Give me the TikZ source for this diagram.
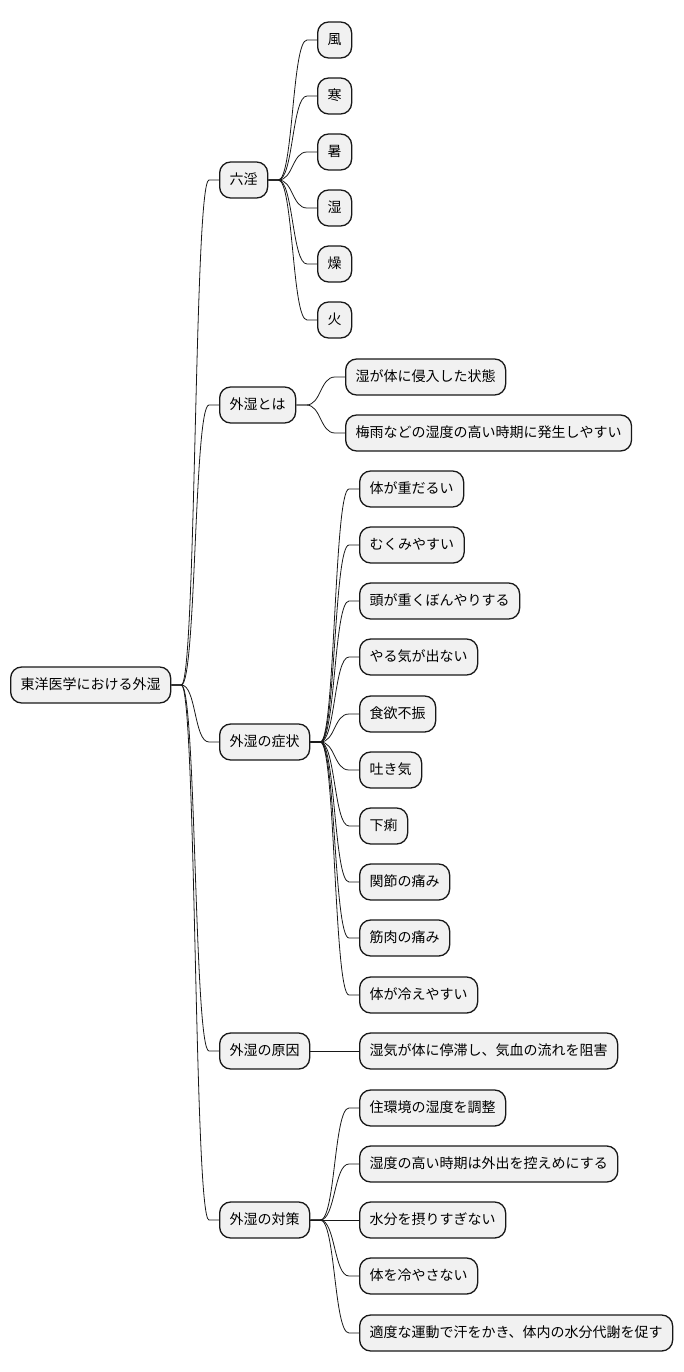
\documentclass[tikz,border=0pt]{standalone}
\usepackage{fontspec}
\setmainfont{Noto Sans CJK JP}
\definecolor{boxfill}{HTML}{F1F1F1}
\definecolor{boxline}{HTML}{181818}

\begin{document}
\begin{tikzpicture}[x=1pt, y=-1pt, every node/.style={font=\fontsize{14pt}{17pt}\selectfont},
  topic/.style={draw=boxline, fill=boxfill, line width=1.3pt, rounded corners=11pt,
    minimum height=36pt, inner xsep=10pt, text height=12pt, text depth=2.5pt, anchor=west},
  branch/.style={draw=boxline, line width=0.8pt,
    to path={-- ++(10,0) .. controls +(15,0) and +(-15,0) .. ([xshift=-10pt]\tikztotarget) -- (\tikztotarget)}}]
  \useasboundingbox (0,0) rectangle (684,1372);

  \node[topic] (root) at (10,685) {東洋医学における外湿};

  \node[topic] (rikuin)  at (219,180)  {六淫};
  \node[topic] (toha)    at (219,405)  {外湿とは};
  \node[topic] (shojo)   at (219,742)  {外湿の症状};
  \node[topic] (genin)   at (219,1051) {外湿の原因};
  \node[topic] (taisaku) at (219,1220) {外湿の対策};

  \node[topic] (fu)    at (317,40)  {風};
  \node[topic] (kan)   at (317,96)  {寒};
  \node[topic] (sho)   at (317,152) {暑};
  \node[topic] (shitu) at (317,208) {湿};
  \node[topic] (so)    at (317,264) {燥};
  \node[topic] (ka)    at (317,320) {火};

  \node[topic] (toha1) at (345,377) {湿が体に侵入した状態};
  \node[topic] (toha2) at (345,433) {梅雨などの湿度の高い時期に発生しやすい};

  \node[topic] (sho1)  at (359,489) {体が重だるい};
  \node[topic] (sho2)  at (359,545) {むくみやすい};
  \node[topic] (sho3)  at (359,601) {頭が重くぼんやりする};
  \node[topic] (sho4)  at (359,657) {やる気が出ない};
  \node[topic] (sho5)  at (359,714) {食欲不振};
  \node[topic] (sho6)  at (359,770) {吐き気};
  \node[topic] (sho7)  at (359,826) {下痢};
  \node[topic] (sho8)  at (359,882) {関節の痛み};
  \node[topic] (sho9)  at (359,938) {筋肉の痛み};
  \node[topic] (sho10) at (359,995) {体が冷えやすい};

  \node[topic] (gen1)  at (359,1051) {湿気が体に停滞し、気血の流れを阻害};

  \node[topic] (tai1)  at (359,1108) {住環境の湿度を調整};
  \node[topic] (tai2)  at (359,1164) {湿度の高い時期は外出を控えめにする};
  \node[topic] (tai3)  at (359,1220) {水分を摂りすぎない};
  \node[topic] (tai4)  at (359,1276) {体を冷やさない};
  \node[topic] (tai5)  at (359,1333) {適度な運動で汗をかき、体内の水分代謝を促す};

  % root to first level
  \foreach \c in {rikuin, toha, shojo, genin, taisaku}
    \draw[branch] (root.east) to (\c.west);

  % second level
  \foreach \c in {fu, kan, sho, shitu, so, ka}
    \draw[branch] (rikuin.east) to (\c.west);
  \foreach \c in {toha1, toha2}
    \draw[branch] (toha.east) to (\c.west);
  \foreach \c in {sho1, sho2, sho3, sho4, sho5, sho6, sho7, sho8, sho9, sho10}
    \draw[branch] (shojo.east) to (\c.west);
  \draw[branch] (genin.east) to (gen1.west);
  \foreach \c in {tai1, tai2, tai3, tai4, tai5}
    \draw[branch] (taisaku.east) to (\c.west);
\end{tikzpicture}
\end{document}
